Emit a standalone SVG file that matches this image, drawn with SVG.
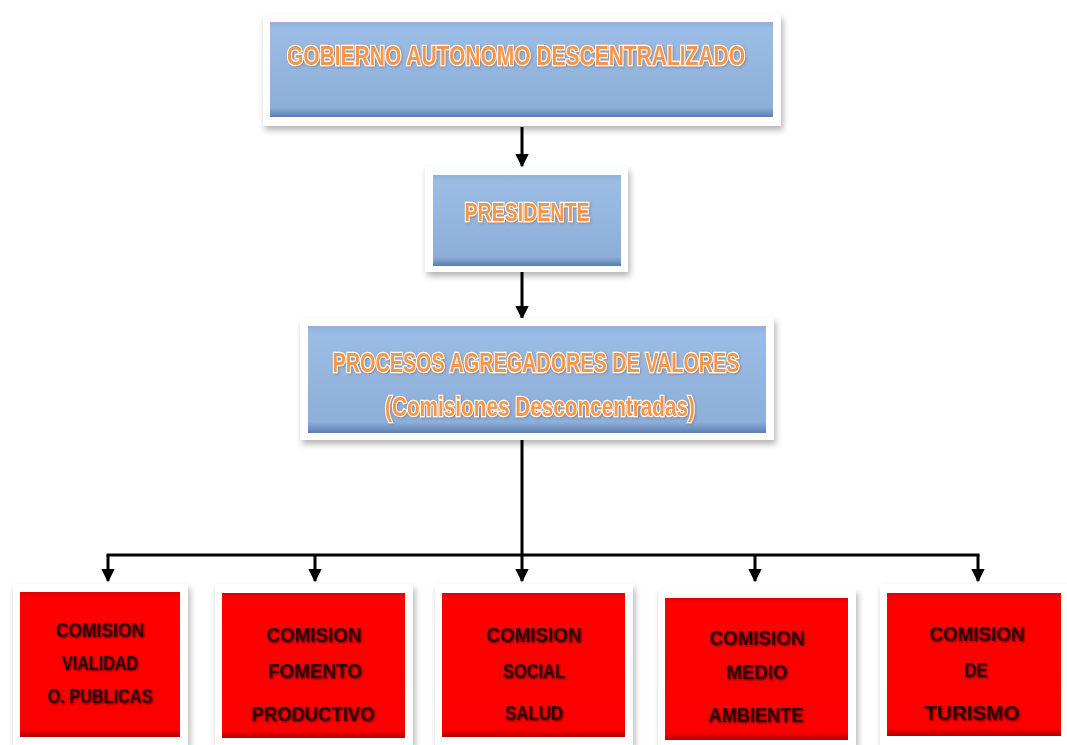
<svg xmlns="http://www.w3.org/2000/svg" width="1067" height="745" viewBox="0 0 1067 745">
<style>
.frame{fill:#ffffff;filter:url(#sh)}
.blue{fill:url(#gb)}
.red{fill:url(#gr)}
.ot{font-family:"Liberation Sans",Arial,sans-serif;font-weight:bold;fill:#f79646;stroke:#ffffff;stroke-width:2.5;paint-order:stroke;text-anchor:middle;filter:url(#glow)}
.rt{font-family:"Liberation Sans",Arial,sans-serif;font-weight:bold;font-size:20px;fill:#2e0303;text-anchor:middle;filter:url(#ds)}
.conn{stroke:#000;stroke-width:3;fill:none}
</style>
<defs>
<filter id="sh" x="-10%" y="-10%" width="120%" height="130%">
<feDropShadow dx="2" dy="4" stdDeviation="3" flood-color="#000" flood-opacity="0.3"/>
</filter>
<filter id="glow" x="-5%" y="-30%" width="110%" height="160%">
<feDropShadow dx="1" dy="1" stdDeviation="1" flood-color="#a05020" flood-opacity="0.5"/>
</filter>
<filter id="ds" x="-10%" y="-30%" width="120%" height="160%">
<feDropShadow dx="1" dy="1" stdDeviation="1" flood-color="#000" flood-opacity="0.6"/>
</filter>
<linearGradient id="gb" x1="0" y1="0" x2="0" y2="1">
<stop offset="0" stop-color="#8fb1da"/>
<stop offset="0.08" stop-color="#9bbce3"/>
<stop offset="0.9" stop-color="#8daed8"/>
<stop offset="1" stop-color="#5a7fae"/>
</linearGradient>
<linearGradient id="gr" x1="0" y1="0" x2="0" y2="1">
<stop offset="0" stop-color="#e00000"/>
<stop offset="0.04" stop-color="#ff0000"/>
<stop offset="0.95" stop-color="#fa0000"/>
<stop offset="1" stop-color="#b00000"/>
</linearGradient>
<marker id="ah" viewBox="0 0 10 10" refX="9" refY="5" markerWidth="4.5" markerHeight="4.5" orient="auto" markerUnits="strokeWidth">
<path d="M0,0 L10,5 L0,10 z" fill="#000"/>
</marker>
</defs>
<rect width="1067" height="745" fill="#ffffff"/>

<g id="connectors">
<line class="conn" x1="522" y1="127" x2="522" y2="166" marker-end="url(#ah)"/>
<line class="conn" x1="522" y1="272" x2="522" y2="318" marker-end="url(#ah)"/>
<line class="conn" x1="522" y1="440" x2="522" y2="555"/>
<line class="conn" x1="106.5" y1="555" x2="979.5" y2="555"/>
<line class="conn" x1="108" y1="555" x2="108" y2="581" marker-end="url(#ah)"/>
<line class="conn" x1="315" y1="555" x2="315" y2="581" marker-end="url(#ah)"/>
<line class="conn" x1="522" y1="555" x2="522" y2="581" marker-end="url(#ah)"/>
<line class="conn" x1="755" y1="555" x2="755" y2="581" marker-end="url(#ah)"/>
<line class="conn" x1="978" y1="555" x2="978" y2="581" marker-end="url(#ah)"/>
</g>

<g id="gad">
<rect class="frame" x="263" y="14" width="518" height="112"/>
<rect class="blue" x="270" y="22" width="503" height="95"/>
<text class="ot" x="516" y="65" font-size="27" textLength="458" lengthAdjust="spacingAndGlyphs">GOBIERNO AUTONOMO DESCENTRALIZADO</text>
</g>

<g id="presidente">
<rect class="frame" x="425" y="167" width="203" height="105"/>
<rect class="blue" x="433" y="175" width="188" height="91"/>
<text class="ot" x="527" y="221" font-size="26" textLength="125" lengthAdjust="spacingAndGlyphs">PRESIDENTE</text>
</g>

<g id="procesos">
<rect class="frame" x="300" y="318" width="474" height="122"/>
<rect class="blue" x="308" y="326" width="458" height="107"/>
<text class="ot" x="536" y="372" font-size="27" textLength="407" lengthAdjust="spacingAndGlyphs">PROCESOS AGREGADORES DE  VALORES</text>
<text class="ot" x="540" y="416" font-size="27" textLength="310" lengthAdjust="spacingAndGlyphs">(Comisiones Desconcentradas)</text>
</g>

<g id="c1">
<rect class="frame" x="13" y="584" width="175" height="161"/>
<rect class="red" x="20" y="592" width="160" height="145"/>
<text class="rt" x="100" y="637" textLength="88" lengthAdjust="spacingAndGlyphs">COMISION</text>
<text class="rt" x="100" y="670" textLength="76" lengthAdjust="spacingAndGlyphs">VIALIDAD</text>
<text class="rt" x="100" y="703" textLength="105" lengthAdjust="spacingAndGlyphs">O. PUBLICAS</text>
</g>

<g id="c2">
<rect class="frame" x="215" y="584" width="198" height="161"/>
<rect class="red" x="222" y="593" width="183" height="145"/>
<text class="rt" x="314" y="642" textLength="95" lengthAdjust="spacingAndGlyphs">COMISION</text>
<text class="rt" x="315" y="678" textLength="94" lengthAdjust="spacingAndGlyphs">FOMENTO</text>
<text class="rt" x="313" y="721" textLength="123" lengthAdjust="spacingAndGlyphs">PRODUCTIVO</text>
</g>

<g id="c3">
<rect class="frame" x="435" y="584" width="198" height="161"/>
<rect class="red" x="442" y="593" width="183" height="144"/>
<text class="rt" x="534" y="642" textLength="95" lengthAdjust="spacingAndGlyphs">COMISION</text>
<text class="rt" x="534" y="678" textLength="62" lengthAdjust="spacingAndGlyphs">SOCIAL</text>
<text class="rt" x="534" y="720" textLength="58" lengthAdjust="spacingAndGlyphs">SALUD</text>
</g>

<g id="c4">
<rect class="frame" x="658" y="589" width="198" height="156"/>
<rect class="red" x="665" y="598" width="183" height="142"/>
<text class="rt" x="757" y="645" textLength="95" lengthAdjust="spacingAndGlyphs">COMISION</text>
<text class="rt" x="757" y="679" textLength="61" lengthAdjust="spacingAndGlyphs">MEDIO</text>
<text class="rt" x="756" y="722" textLength="95" lengthAdjust="spacingAndGlyphs">AMBIENTE</text>
</g>

<g id="c5">
<rect class="frame" x="880" y="584" width="187" height="161"/>
<rect class="red" x="887" y="593" width="174" height="143"/>
<text class="rt" x="977" y="641" textLength="95" lengthAdjust="spacingAndGlyphs">COMISION</text>
<text class="rt" x="976" y="677" textLength="23" lengthAdjust="spacingAndGlyphs">DE</text>
<text class="rt" x="972" y="720" textLength="95" lengthAdjust="spacingAndGlyphs">TURISMO</text>
</g>
</svg>
